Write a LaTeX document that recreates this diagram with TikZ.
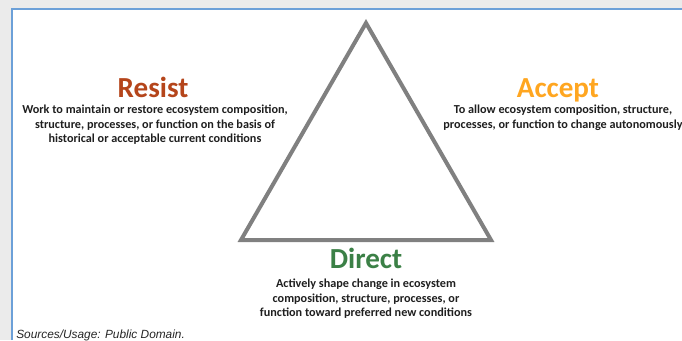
\documentclass[tikz,border=0pt]{standalone}
\usepackage{fontspec}
\setmainfont{Carlito}
\newfontfamily\notefont{Liberation Sans}
\usetikzlibrary{positioning}
\definecolor{resistred}{RGB}{181,69,27}
\definecolor{acceptorange}{RGB}{255,166,32}
\definecolor{directgreen}{RGB}{59,128,70}
\definecolor{trigray}{RGB}{128,128,128}
\definecolor{framegray}{RGB}{235,235,235}
\definecolor{frameblue}{RGB}{108,160,216}
\tikzset{
  title/.style={font=\bfseries\fontsize{21.8}{26}\selectfont, inner sep=0pt, anchor=base},
  body/.style={font=\bfseries\fontsize{9.15}{10.8}\selectfont, align=center, text=black!88, inner sep=0pt}
}

\begin{document}
\begin{tikzpicture}[x=0.75pt,y=-0.75pt]
			%%%%% FRAME %%%%%
			\clip (0,0) rectangle (682,340);
			\fill[framegray] (0,0) rectangle (682,340);
			\fill[white] (12,9.5) rectangle (682,340);
			\draw[frameblue, line width=1.5pt] (11.5,340) -- (11.5,9) -- (682,9);
			
			%%%%% TRIANGLE %%%%%
			\draw[trigray, line width=3pt, line join=miter] (366,23) -- (491,240) -- (241,240) -- cycle;
			
			%%%%% LABELS %%%%%
			\node[title, text=resistred] (resist) at (153,97) {Resist};
			\node[body, below=6pt of resist.base, xshift=1.5pt] (resisttext) {Work to maintain or restore ecosystem composition,\\structure, processes, or function on the basis of\\historical or acceptable current conditions};
			
			\node[title, text=acceptorange] (accept) at (558,97) {Accept};
			\node[body, below=6pt of accept.base, xshift=3.75pt] (accepttext) {To allow ecosystem composition, structure,\\processes, or function to change autonomously};
			
			\node[title, text=directgreen] (direct) at (366,268) {Direct};
			\node[body, below=8.3pt of direct.base] (directtext) {Actively shape change in ecosystem\\composition, structure, processes, or\\function toward preferred new conditions};
			
			\node[font=\notefont\itshape\fontsize{8.9}{10}\selectfont, anchor=base west, inner sep=0pt, text=black!85] (source) at (16,338) {Sources/Usage: Public Domain.};
\end{tikzpicture}
\end{document}
